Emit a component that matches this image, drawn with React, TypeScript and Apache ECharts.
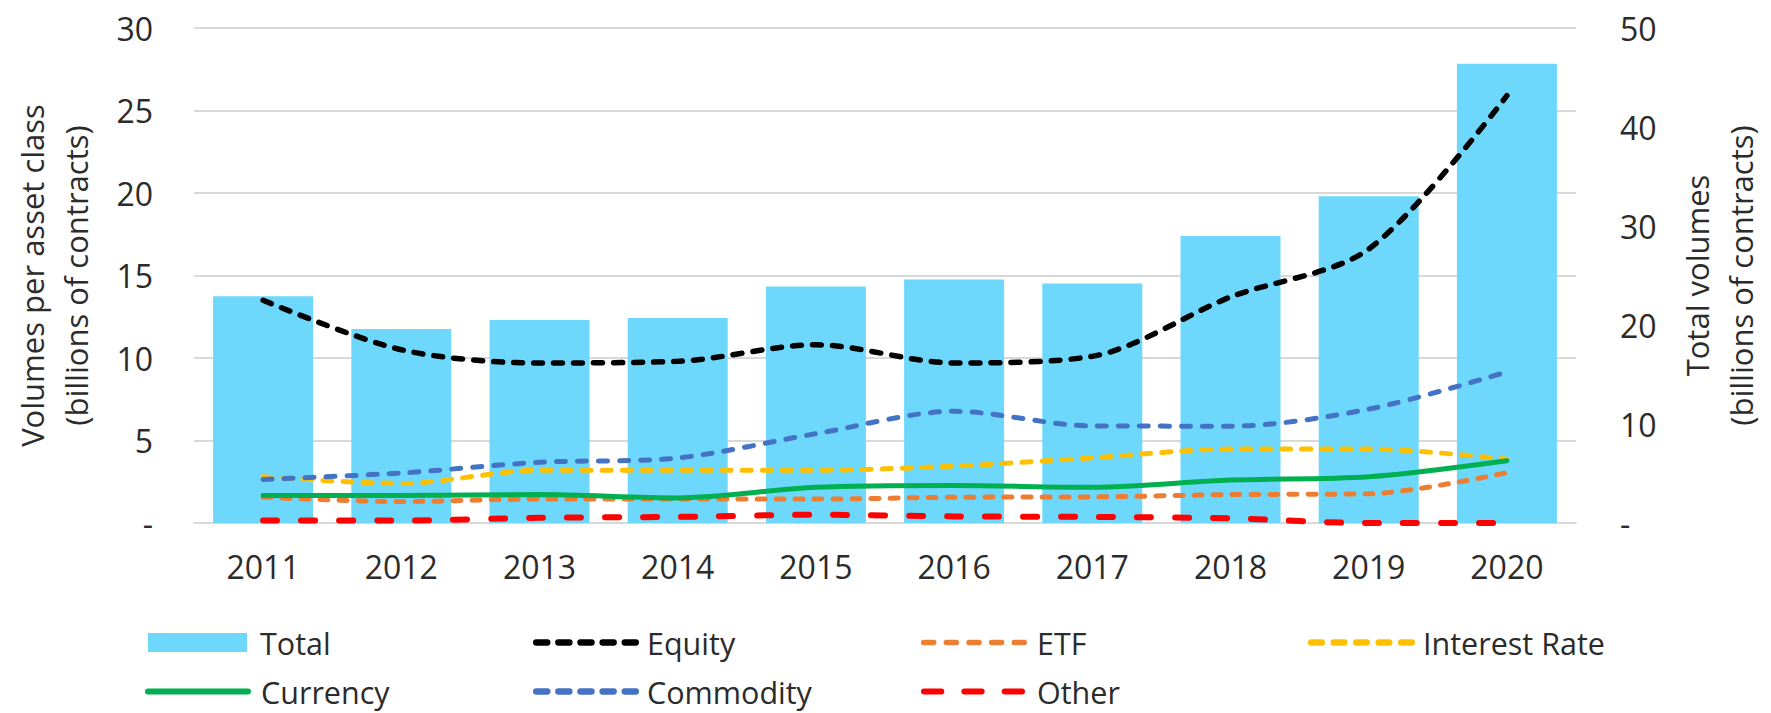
import React, { useEffect, useRef } from "react";
import * as echarts from "echarts";

const years = ["2011", "2012", "2013", "2014", "2015", "2016", "2017", "2018", "2019", "2020"];
const total = [22.9, 19.6, 20.5, 20.7, 23.9, 24.6, 24.2, 29.0, 33.0, 46.4];
const equity = [13.5, 10.5, 9.7, 9.8, 10.8, 9.7, 10.1, 13.7, 16.6, 25.9];
const etf = [1.56, 1.3, 1.45, 1.45, 1.45, 1.56, 1.58, 1.72, 1.77, 3.05];
const interestRate = [2.8, 2.4, 3.2, 3.2, 3.2, 3.45, 3.95, 4.48, 4.48, 3.87];
const currency = [1.67, 1.66, 1.72, 1.52, 2.16, 2.27, 2.16, 2.6, 2.8, 3.77];
const commodity = [2.64, 3.03, 3.68, 3.94, 5.41, 6.77, 5.88, 5.87, 6.9, 9.16];
const other = [0.15, 0.15, 0.32, 0.37, 0.5, 0.4, 0.37, 0.28, 0.0, 0.0];

const FONT = "Open Sans";
const TXT = "#2b2b2b";

// rounded dash pattern used as a legend icon
function dashIcon(count: number, dash: number, gap: number, h: number) {
  const r = h / 2;
  let d = "";
  for (let i = 0; i < count; i++) {
    const x = i * (dash + gap);
    const body = Math.max(dash - h, 0.01);
    d += `M${(x + r).toFixed(2)},0 h${body.toFixed(2)} a${r},${r} 0 0 1 0,${h} h${(-body).toFixed(2)} a${r},${r} 0 0 1 0,${-h} z `;
  }
  return "path://" + d.trim();
}

function legendAt(name: string, left: number, top: number, width: number, icon: string, gap: number) {
  return {
    data: [name],
    left,
    top,
    padding: 0,
    itemWidth: width,
    itemHeight: 19,
    icon,
    itemStyle: { borderWidth: 0 },
    textStyle: { fontFamily: FONT, fontSize: 30.5, lineHeight: 30, color: TXT, padding: [0, 0, 0, gap - 5] },
  };
}

export default function App() {
  const ref = useRef<HTMLDivElement>(null);
  useEffect(() => {
    const chart = echarts.init(ref.current!, undefined, { renderer: "svg" });
    const lineBase = (name: string, data: number[], color: string, dash: any, width = 5) => ({
      name,
      type: "line",
      yAxisIndex: 0,
      data,
      smooth: 0.3,
      symbol: "none",
      lineStyle: { color, width, type: dash, cap: "round" },
      itemStyle: { color },
    });
    const r1 = 627;
    const r2 = 676;
    chart.setOption({
      animation: false,
      backgroundColor: "#ffffff",
      grid: { left: 194, right: 187, top: 28, bottom: 190, containLabel: false },
      legend: [
        legendAt("Total", 148, r1, 99, "rect", 13),
        legendAt("Equity", 533, r1, 106, dashIcon(5, 18, 4.8, 6.5), 8),
        legendAt("ETF", 921, r1, 106, dashIcon(5, 16, 7.5, 5.5), 10),
        legendAt("Interest Rate", 1308, r1, 107, dashIcon(5, 17, 5.5, 6.5), 8),
        legendAt("Currency", 145, r2, 106, dashIcon(1, 106, 0, 6), 10),
        legendAt("Commodity", 533, r2, 106, dashIcon(5, 18, 4.8, 6.5), 8),
        legendAt("Other", 921, r2, 104, dashIcon(3, 23.3, 17, 6), 12),
      ],
      xAxis: {
        type: "category",
        data: years,
        boundaryGap: true,
        axisLine: { show: true, lineStyle: { color: "#d9d9d9", width: 2 } },
        axisTick: { show: false },
        axisLabel: { fontFamily: FONT, fontSize: 32, color: TXT, margin: 27 },
      },
      yAxis: [
        {
          type: "value",
          min: 0,
          max: 30,
          interval: 5,
          name: "Volumes per asset class\n(billions of contracts)",
          nameLocation: "middle",
          nameRotate: 90,
          nameGap: 96,
          nameTextStyle: { fontFamily: FONT, fontSize: 31, color: TXT, lineHeight: 44 },
          axisLine: { show: false },
          axisTick: { show: false },
          axisLabel: {
            fontFamily: FONT,
            fontSize: 32,
            color: TXT,
            margin: 41,
            formatter: (v: number) => (v === 0 ? "-" : String(v)),
          },
          splitLine: { lineStyle: { color: "#d9d9d9", width: 2 } },
        },
        {
          type: "value",
          min: 0,
          max: 50,
          interval: 10,
          position: "right",
          name: "Total volumes\n(billions of contracts)",
          nameLocation: "middle",
          nameRotate: 90,
          nameGap: 99,
          nameTextStyle: { fontFamily: FONT, fontSize: 31, color: TXT, lineHeight: 44 },
          axisLine: { show: false },
          axisTick: { show: false },
          axisLabel: {
            fontFamily: FONT,
            fontSize: 32,
            color: TXT,
            margin: 44,
            formatter: (v: number) => (v === 0 ? "-" : String(v)),
          },
          splitLine: { show: false },
        },
      ],
      series: [
        {
          name: "Total",
          type: "bar",
          yAxisIndex: 1,
          data: total,
          barWidth: 100,
          itemStyle: { color: "#6dd8fc" },
        },
        lineBase("Equity", equity, "#000000", [9, 11], 5.5),
        lineBase("ETF", etf, "#ed7d31", [8, 11], 5),
        lineBase("Interest Rate", interestRate, "#ffc000", [9, 11], 5),
        lineBase("Currency", currency, "#00b050", "solid", 5),
        lineBase("Commodity", commodity, "#4472c4", [9, 12], 5),
        lineBase("Other", other, "#ff0000", [14, 24], 6),
      ],
    });
    return () => chart.dispose();
  }, []);
  return (
    <div
      ref={ref}
      style={{ position: "fixed", left: 0, top: 0, width: 1771, height: 713 }}
    />
  );
}
